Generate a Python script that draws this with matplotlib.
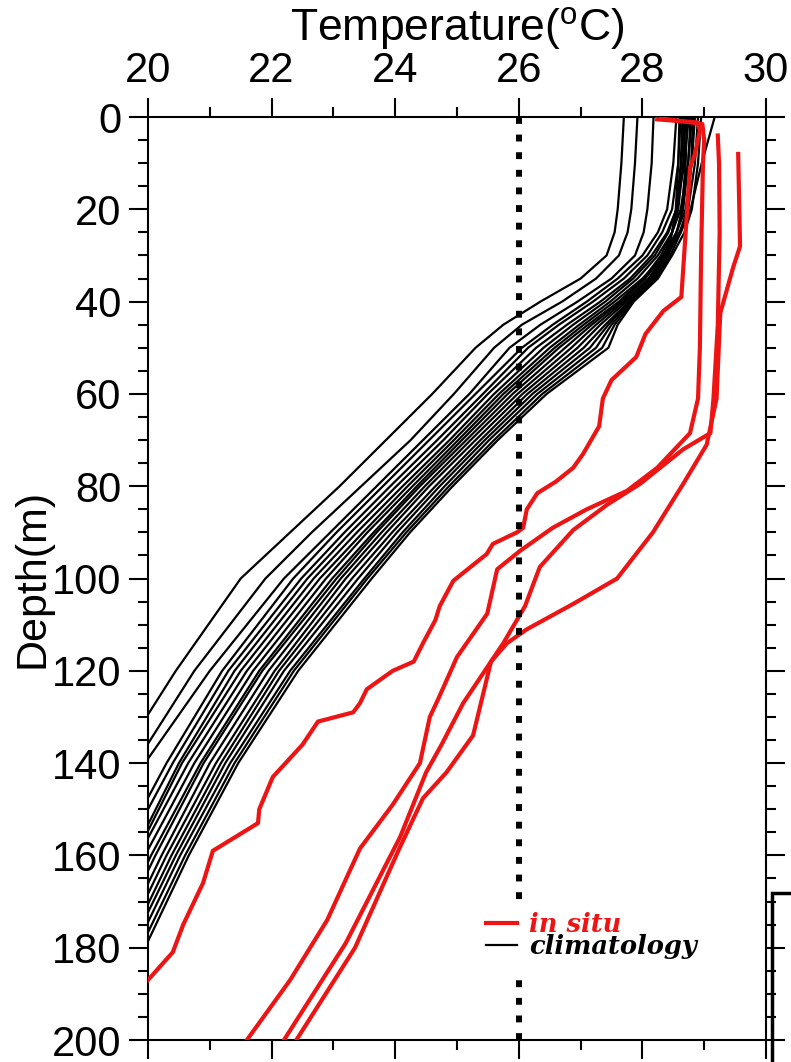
import matplotlib
matplotlib.use("Agg")
import matplotlib.pyplot as plt
from matplotlib.patches import Rectangle
from matplotlib.ticker import MultipleLocator

plt.rcParams["font.family"] = ["Liberation Sans", "DejaVu Sans"]
plt.rcParams["mathtext.fontset"] = "custom"
plt.rcParams["mathtext.rm"] = "Liberation Sans"

# climatology profiles, all on the same depth levels (m)
clim_depth = [0, 10, 20, 25, 30, 35, 40, 45, 50, 60, 70, 80, 90, 100, 120, 140, 160, 180, 200]
clim_temp = [
    [27.70, 27.66, 27.60, 27.55, 27.42, 27.00, 26.35, 25.75, 25.30, 24.60, 23.85, 23.10, 22.30, 21.50, 20.45, 19.50, 18.80, 18.30, 17.90],
    [27.92, 27.88, 27.82, 27.76, 27.62, 27.25, 26.70, 26.05, 25.60, 24.95, 24.25, 23.45, 22.65, 21.90, 20.75, 19.80, 19.00, 18.40, 17.90],
    [28.18, 28.15, 28.08, 28.02, 27.88, 27.50, 26.95, 26.35, 25.85, 25.20, 24.45, 23.70, 22.95, 22.20, 21.00, 19.95, 19.10, 18.50, 18.00],
    [28.55, 28.50, 28.40, 28.25, 28.00, 27.60, 27.10, 26.55, 26.05, 25.30, 24.55, 23.80, 23.05, 22.35, 21.20, 20.30, 19.50, 18.80, 18.30],
    [28.62, 28.58, 28.48, 28.32, 28.08, 27.70, 27.20, 26.65, 26.15, 25.42, 24.68, 23.92, 23.18, 22.48, 21.30, 20.40, 19.60, 18.90, 18.40],
    [28.75, 28.68, 28.55, 28.40, 28.15, 27.80, 27.32, 26.78, 26.28, 25.50, 24.78, 24.02, 23.28, 22.58, 21.40, 20.50, 19.75, 19.00, 18.50],
    [28.68, 28.63, 28.55, 28.42, 28.20, 27.85, 27.40, 26.88, 26.40, 25.60, 24.88, 24.12, 23.38, 22.68, 21.50, 20.55, 19.80, 19.10, 18.50],
    [28.80, 28.74, 28.62, 28.48, 28.25, 27.92, 27.48, 26.98, 26.50, 25.68, 24.95, 24.20, 23.48, 22.78, 21.60, 20.65, 19.85, 19.20, 18.60],
    [29.17, 28.96, 28.78, 28.62, 28.35, 28.00, 27.55, 27.05, 26.58, 25.75, 25.02, 24.28, 23.55, 22.88, 21.70, 20.75, 19.95, 19.25, 18.60],
    [28.70, 28.66, 28.58, 28.48, 28.30, 28.02, 27.62, 27.12, 26.65, 25.82, 25.08, 24.35, 23.65, 22.98, 21.80, 20.85, 20.05, 19.35, 18.70],
    [28.85, 28.80, 28.70, 28.55, 28.33, 28.05, 27.66, 27.18, 26.75, 25.90, 25.15, 24.40, 23.70, 23.05, 21.85, 20.90, 20.12, 19.40, 18.80],
    [28.65, 28.62, 28.56, 28.48, 28.35, 28.10, 27.70, 27.25, 26.85, 25.98, 25.22, 24.48, 23.78, 23.12, 21.95, 21.00, 20.22, 19.50, 18.90],
    [28.78, 28.74, 28.66, 28.55, 28.38, 28.12, 27.74, 27.32, 26.95, 26.06, 25.30, 24.55, 23.86, 23.20, 22.05, 21.10, 20.30, 19.58, 18.95],
    [28.90, 28.85, 28.74, 28.60, 28.40, 28.15, 27.78, 27.40, 27.05, 26.14, 25.38, 24.65, 23.95, 23.30, 22.12, 21.18, 20.38, 19.66, 19.00],
    [28.60, 28.58, 28.54, 28.48, 28.40, 28.18, 27.80, 27.45, 27.15, 26.22, 25.45, 24.72, 24.03, 23.40, 22.20, 21.25, 20.45, 19.72, 19.05],
    [28.72, 28.70, 28.64, 28.56, 28.42, 28.20, 27.82, 27.50, 27.25, 26.30, 25.52, 24.80, 24.12, 23.50, 22.30, 21.33, 20.52, 19.80, 19.10],
    [28.82, 28.79, 28.72, 28.62, 28.45, 28.22, 27.84, 27.55, 27.35, 26.38, 25.60, 24.87, 24.18, 23.55, 22.36, 21.40, 20.60, 19.88, 19.20],
    [28.95, 28.90, 28.80, 28.68, 28.48, 28.25, 27.86, 27.60, 27.45, 26.45, 25.66, 24.93, 24.24, 23.62, 22.43, 21.46, 20.66, 19.95, 19.30],
]

# in situ profiles (depth m, temperature degC)
insitu_a_depth = [0.5, 1.2, 3, 8, 11, 25, 39, 42, 47, 52, 57, 61, 67, 73, 76, 79, 81.5, 85, 89, 90,
                  92.5, 94.7, 100.5, 106, 109, 114, 118, 120, 124, 127, 129, 131, 136, 143, 150, 153,
                  159, 166, 175, 181, 187, 190]
insitu_a_temp = [28.24, 28.90, 28.93, 28.85, 28.77, 28.70, 28.63, 28.34, 28.05, 27.90, 27.50, 27.36, 27.30,
                 27.04, 26.88, 26.60, 26.30, 26.13, 26.07, 25.97, 25.58, 25.48, 24.94, 24.72, 24.65, 24.45,
                 24.30, 23.96, 23.54, 23.43, 23.32, 22.75, 22.50, 22.02, 21.80, 21.78, 21.05, 20.89, 20.57,
                 20.40, 20.00, 19.80]
insitu_b_depth = [0.3, 1.5, 5, 10, 30, 50, 61, 68.5, 76, 81, 85, 89, 94, 98, 107.6, 117, 126, 130, 140,
                  149, 158.5, 174, 187, 200]
insitu_b_temp = [28.30, 28.97, 29.00, 28.98, 28.95, 28.93, 28.90, 28.77, 28.24, 27.75, 27.10, 26.55, 26.02,
                 25.65, 25.49, 25.00, 24.70, 24.56, 24.40, 23.96, 23.43, 22.90, 22.30, 21.60]
insitu_c_depth = [4, 10, 25, 45, 61, 68.5, 72, 79.5, 84, 89.5, 97.5, 106, 114, 119, 127, 136, 142, 156,
                  179, 200]
insitu_c_temp = [29.22, 29.24, 29.25, 29.22, 29.15, 29.10, 28.66, 27.96, 27.43, 26.88, 26.34, 26.10, 25.75,
                 25.50, 25.10, 24.75, 24.50, 24.08, 23.20, 22.20]
insitu_d_depth = [8, 28, 32.5, 42.5, 61, 71, 79.5, 90, 100, 105.5, 111, 114, 118, 134, 142, 147.6, 159,
                  180, 200]
insitu_d_temp = [29.55, 29.58, 29.47, 29.26, 29.20, 29.04, 28.66, 28.17, 27.59, 26.88, 26.13, 25.81, 25.55,
                 25.26, 24.83, 24.45, 24.05, 23.35, 22.40]

insitu = [(insitu_a_temp, insitu_a_depth), (insitu_b_temp, insitu_b_depth),
          (insitu_c_temp, insitu_c_depth), (insitu_d_temp, insitu_d_depth)]

ref_temp = 26

fig = plt.figure(figsize=(7.91, 10.62), dpi=100)
ax = fig.add_axes([0.1871, 0.0207, 0.7813, 0.8691])

red = "#ee1414"
for i, temp in enumerate(clim_temp):
    ax.plot(temp, clim_depth, color="black", lw=1.6, zorder=2,
            label="climatology" if i == 0 else None)
for i, (temp, depth) in enumerate(insitu):
    ax.plot(temp, depth, color=red, lw=3, zorder=3,
            label="in situ" if i == 0 else None)

ax.axvline(ref_temp, color="black", lw=4.3, linestyle=(0, (1.15, 1.8)),
           dash_capstyle="butt", zorder=4)

ax.set_xlim(20, 30)
ax.set_ylim(200, 0)
ax.xaxis.set_major_locator(MultipleLocator(2))
ax.xaxis.set_minor_locator(MultipleLocator(1))
ax.yaxis.set_major_locator(MultipleLocator(20))
ax.yaxis.set_minor_locator(MultipleLocator(5))
ax.tick_params(which="both", direction="out", width=1.5, top=True, right=True,
               labeltop=True, labelbottom=False, labelsize=30)
ax.tick_params(which="major", length=14, pad=5)
ax.tick_params(which="minor", length=7.5)
for s in ax.spines.values():
    s.set_linewidth(1.5)

ax.xaxis.set_label_position("top")
ax.set_xlabel("Temperature($^{\\rm o}$C)", fontsize=32, labelpad=7)
ax.set_ylabel("Depth(m)", fontsize=31, labelpad=0)

handles, labels = ax.get_legend_handles_labels()
leg = ax.legend(handles[::-1], labels[::-1], loc="upper left", bbox_to_anchor=(0.529, 0.151),
                frameon=True, facecolor="white", edgecolor="none", framealpha=1, fancybox=False,
                borderpad=0.45, borderaxespad=0, handlelength=1.2,
                handletextpad=0.45, labelspacing=-0.12, labelcolor="linecolor",
                prop=dict(family="DejaVu Serif", weight="bold", style="italic", size=18.5))
leg.set_zorder(6)

# edge of the neighbouring panel
fig.add_artist(Rectangle((0.976, -0.01), 0.1, 0.169, transform=fig.transFigure,
                         fill=False, lw=2.5, edgecolor="black"))

fig.savefig("out.png", dpi=100)
